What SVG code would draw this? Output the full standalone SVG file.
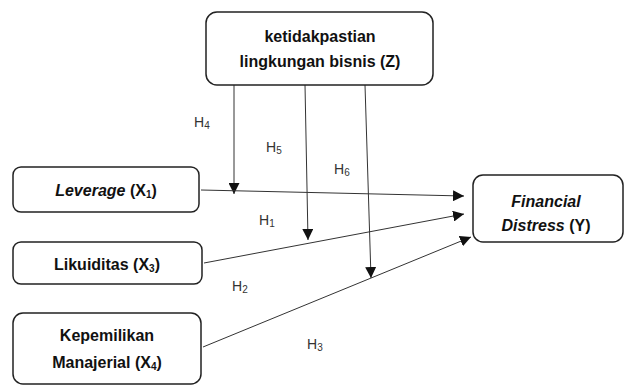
<svg xmlns="http://www.w3.org/2000/svg" width="625" height="386" viewBox="0 0 625 386">
<defs>
<style>
.box{fill:#fff;stroke:#222;stroke-width:1.5}
.t{font-family:"Liberation Sans",Arial,sans-serif;font-size:16px;font-weight:bold;fill:#111;text-anchor:middle}
.h{font-family:"Liberation Sans",Arial,sans-serif;font-size:14px;fill:#333}
.sub{font-size:10px}
.c{stroke:#333;stroke-width:1;fill:none;marker-end:url(#a)}
</style>
<marker id="a" viewBox="0 0 10 10" refX="10" refY="5" markerWidth="11" markerHeight="11" markerUnits="userSpaceOnUse" orient="auto">
<path d="M0,0 L10,5 L0,10 Z" fill="#111"/>
</marker>
</defs>
<g id="connectors">
<line class="c" x1="234" y1="85" x2="234" y2="194"/>
<line class="c" x1="305" y1="85" x2="308" y2="240"/>
<line class="c" x1="365" y1="85" x2="371" y2="278"/>
<line class="c" x1="201" y1="190" x2="464" y2="196"/>
<line class="c" x1="204" y1="263" x2="464" y2="214"/>
<line class="c" x1="203" y1="347" x2="471" y2="237"/>
</g>
<g id="labels">
<text class="h" x="194" y="127">H<tspan class="sub" dy="2">4</tspan></text>
<text class="h" x="266" y="152">H<tspan class="sub" dy="2">5</tspan></text>
<text class="h" x="334" y="174">H<tspan class="sub" dy="2">6</tspan></text>
<text class="h" x="259" y="225">H<tspan class="sub" dy="2">1</tspan></text>
<text class="h" x="232" y="291">H<tspan class="sub" dy="2">2</tspan></text>
<text class="h" x="307" y="349">H<tspan class="sub" dy="2">3</tspan></text>
</g>
<g id="z">
<rect class="box" x="206" y="12" width="227" height="73" rx="11"/>
<text class="t" x="320" y="42">ketidakpastian</text>
<text class="t" x="320" y="67">lingkungan bisnis (Z)</text>
</g>
<g id="x1">
<rect class="box" x="13" y="167" width="186" height="45" rx="8"/>
<text class="t" x="106" y="196"><tspan font-style="italic">Leverage</tspan> (X<tspan class="sub" dy="2">1</tspan><tspan dy="-2">)</tspan></text>
</g>
<g id="x3">
<rect class="box" x="13" y="242" width="189" height="42" rx="8"/>
<text class="t" x="107" y="270">Likuiditas (X<tspan class="sub" dy="2">3</tspan><tspan dy="-2">)</tspan></text>
</g>
<g id="x4">
<rect class="box" x="13" y="313" width="188" height="71" rx="10"/>
<text class="t" x="107" y="341">Kepemilikan</text>
<text class="t" x="107" y="368">Manajerial (X<tspan class="sub" dy="2">4</tspan><tspan dy="-2">)</tspan></text>
</g>
<g id="y">
<rect class="box" x="473" y="175" width="150" height="67" rx="10"/>
<text class="t" x="546" y="207" font-style="italic">Financial</text>
<text class="t" x="546" y="231"><tspan font-style="italic">Distress</tspan> (Y)</text>
</g>
</svg>
